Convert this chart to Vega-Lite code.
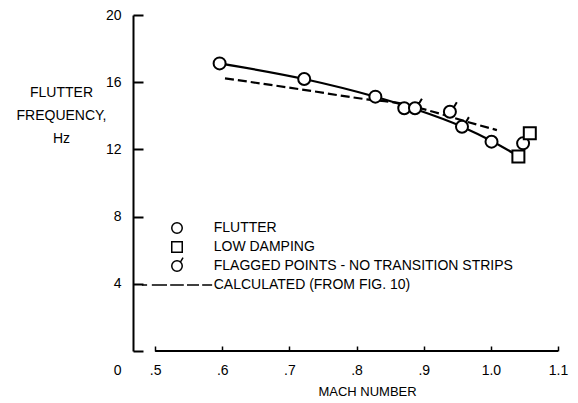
{
  "$schema": "https://vega.github.io/schema/vega-lite/v6.json",
  "width": 425,
  "height": 336,
  "autosize": {"type": "none"},
  "padding": {"left": 133, "top": 15, "right": 20, "bottom": 52},
  "background": "white",
  "config": {
    "view": {"stroke": null},
    "font": "Liberation Sans",
    "axis": {"grid": false, "labelColor": "black", "titleColor": "black", "tickColor": "black", "domainColor": "black", "titleFontWeight": "normal"}
  },
  "datasets": {
    "obs": [
      {"mach": 0.596, "freq": 17.12, "type": "FLUTTER"},
      {"mach": 0.722, "freq": 16.19, "type": "FLUTTER"},
      {"mach": 0.828, "freq": 15.14, "type": "FLUTTER"},
      {"mach": 0.871, "freq": 14.45, "type": "FLUTTER"},
      {"mach": 1.001, "freq": 12.46, "type": "FLUTTER"},
      {"mach": 1.048, "freq": 12.36, "type": "FLUTTER"},
      {"mach": 0.887, "freq": 14.45, "type": "FLAGGED POINTS - NO TRANSITION STRIPS"},
      {"mach": 0.939, "freq": 14.24, "type": "FLAGGED POINTS - NO TRANSITION STRIPS"},
      {"mach": 0.957, "freq": 13.35, "type": "FLAGGED POINTS - NO TRANSITION STRIPS"},
      {"mach": 1.041, "freq": 11.57, "type": "LOW DAMPING"},
      {"mach": 1.058, "freq": 12.96, "type": "LOW DAMPING"}
    ],
    "fit": [
      {"mach": 0.596, "freq": 17.12},
      {"mach": 0.722, "freq": 16.19},
      {"mach": 0.828, "freq": 15.13},
      {"mach": 0.887, "freq": 14.4},
      {"mach": 0.957, "freq": 13.35},
      {"mach": 1.001, "freq": 12.5},
      {"mach": 1.041, "freq": 11.6}
    ],
    "calc": [
      {"mach": 0.604, "freq": 16.23},
      {"mach": 0.716, "freq": 15.58},
      {"mach": 0.815, "freq": 14.98},
      {"mach": 0.865, "freq": 14.74},
      {"mach": 0.914, "freq": 14.24},
      {"mach": 0.964, "freq": 13.65},
      {"mach": 1.009, "freq": 13.15}
    ],
    "xaxis": [
      {"mach": 0.5, "mach2": 1.1, "freq": 0}
    ]
  },
  "encoding": {
    "x": {
      "field": "mach", "type": "quantitative", "scale": {"domain": [0.467, 1.1]},
      "axis": {
        "values": [0.5, 0.6, 0.7, 0.8, 0.9, 1.0, 1.1],
        "domain": false,
        "tickSize": -5,
        "tickWidth": 1.5,
        "labelExpr": "datum.value < 1 ? replace(format(datum.value, '.1f'), '0.', '.') : format(datum.value, '.1f')",
        "labelFontSize": 14,
        "labelPadding": 17,
        "labelFlush": false,
        "labelOverlap": false,
        "title": "MACH NUMBER",
        "titleFontSize": 13,
        "titleX": 234,
        "titleY": 34,
        "titleAlign": "center",
        "titleBaseline": "top"
      }
    },
    "y": {
      "field": "freq", "type": "quantitative", "scale": {"domain": [0, 20]},
      "axis": {
        "values": [0, 4, 8, 12, 16, 20],
        "domain": true,
        "domainWidth": 2,
        "tickSize": -10,
        "tickWidth": 2,
        "labelFontSize": 14,
        "labelPadding": 22,
        "labelOffset": {"condition": {"test": "datum.value == 0", "value": 19}, "value": 0},
        "labelFlush": false,
        "labelOverlap": false,
        "title": ["FLUTTER", "FREQUENCY,", "Hz"],
        "titleAngle": 0,
        "titleAlign": "center",
        "titleBaseline": "top",
        "titleX": -72,
        "titleY": 70,
        "titleFontSize": 14,
        "titleLineHeight": 23
      }
    }
  },
  "layer": [
    {
      "data": {"name": "xaxis"},
      "mark": {"type": "rule", "color": "black", "strokeWidth": 2},
      "encoding": {
        "x2": {"field": "mach2"}
      }
    },
    {
      "data": {"name": "calc"},
      "mark": {"type": "line", "color": "black", "strokeWidth": 2.2, "strokeDash": [9, 4], "interpolate": "monotone"},
      "encoding": {}
    },
    {
      "data": {"name": "fit"},
      "mark": {"type": "line", "color": "black", "strokeWidth": 2.2, "interpolate": "monotone"},
      "encoding": {}
    },
    {
      "data": {"name": "obs"},
      "mark": {"type": "point", "filled": true, "fill": "white", "stroke": "black", "strokeWidth": 2, "size": 144, "opacity": 1},
      "encoding": {
        "shape": {
          "field": "type", "type": "nominal",
          "scale": {
            "domain": ["FLUTTER", "LOW DAMPING", "FLAGGED POINTS - NO TRANSITION STRIPS", "CALCULATED (FROM FIG. 10)"],
            "range": ["circle", "square", "M-1,0A1,1,0,1,1,1,0A1,1,0,1,1,-1,0ZM0.65,-0.76L1.15,-1.6", "M-6.7,0H-5.7M-4.8,0H-1.9M-1.3,0H1.3M1.9,0H4.2M4.8,0H6.7"]
          },
          "legend": {
            "orient": "none",
            "legendX": 37,
            "legendY": 206,
            "title": null,
            "padding": 0,
            "symbolSize": 110,
            "labelFontSize": 14,
            "labelColor": "black",
            "labelOffset": 29.7,
            "labelLimit": 500,
            "rowPadding": -2,
            "gridAlign": "all",
            "encode": {
              "symbols": {
                "update": {
                  "stroke": {"value": "black"},
                  "fill": {"value": "white"},
                  "strokeWidth": {"value": 1.8},
                  "opacity": {"value": 1}
                }
              }
            }
          }
        }
      }
    }
  ]
}
